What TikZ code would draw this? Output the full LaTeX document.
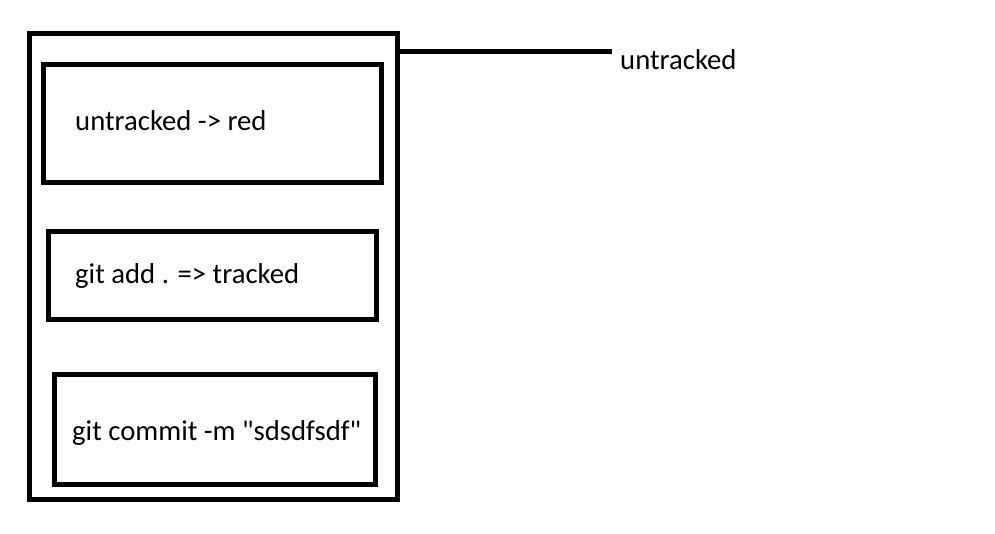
\documentclass[tikz,border=0pt]{standalone}
\usepackage{fontspec}
\setmainfont{Carlito}[Ligatures=TeXOff]
\begin{document}
\begin{tikzpicture}[x=1pt,y=-1pt,
  box/.style={draw=black,line width=5pt,inner sep=0pt,outer sep=0pt,fill=none},
  lbl/.style={anchor=base west,inner sep=0pt,font=\fontsize{28.7}{32}\selectfont},
  conn/.style={draw=black,line width=4.2pt}]
\useasboundingbox[fill=white] (0,0) rectangle (995,533);
\node[box,minimum width=367.5pt,minimum height=466pt] (outer) at (213.25,266) {};
\node[box,minimum width=338pt,minimum height=118pt] (b1) at (212.5,123) {};
\node[box,minimum width=328pt,minimum height=88pt] (b2) at (212.5,275) {};
\node[box,minimum width=321pt,minimum height=110pt] (b3) at (215,429.5) {};
\node[lbl] (t1) at (75,130) {untracked -> red};
\node[lbl] (t2) at (75,283) {git add . => tracked};
\node[lbl] (t3) at (72,440) {git commit -m "sdsdfsdf"};
\coordinate (lend) at (612,51.5);
\node[lbl] (t4) at (620,69) {untracked};
\draw[conn] (outer.east |- lend) -- (lend);
\end{tikzpicture}
\end{document}
